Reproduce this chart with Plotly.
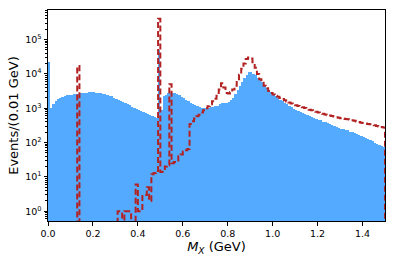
import plotly.graph_objects as go

bin_width = 0.01
n_bins = 150
edges = [round(i * bin_width, 2) for i in range(n_bins + 1)]
centers = [round((i + 0.5) * bin_width, 3) for i in range(n_bins)]

# Blue filled histogram (events per 0.01 GeV)
blue_counts = [
    22000, 1000, 1300, 1650, 1850, 2000, 2150, 2250, 2350, 2450,
    2500, 2550, 2600, 2650, 2700, 2750, 2800, 2850, 2900, 2900,
    2900, 2850, 2800, 2750, 2650, 2550, 2450, 2300, 2200, 2050,
    1900, 1780, 1650, 1530, 1420, 1320, 1220, 1120, 1050, 980,
    900, 840, 780, 720, 670, 630, 590, 560, 530, 50000,
    900, 2200, 2500, 2700, 2800, 2800, 2700, 2550, 2350, 2150,
    1950, 1750, 1600, 1450, 1350, 1250, 1150, 1100, 1050, 1050,
    1050, 1050, 1080, 1100, 1150, 1200, 1300, 1380, 1420, 1450,
    1550, 1700, 2000, 2600, 3400, 4500, 6000, 7600, 9500, 11500,
    11000, 10000, 9000, 7800, 6700, 5700, 4800, 4000, 3400, 2900,
    2550, 2250, 2000, 1750, 1580, 1430, 1300, 1180, 1070, 980,
    900, 840, 780, 730, 680, 640, 600, 560, 525, 495,
    465, 440, 410, 385, 360, 340, 320, 300, 280, 265,
    255, 245, 235, 225, 210, 200, 190, 178, 165, 155,
    145, 138, 130, 118, 110, 100, 92, 85, 80, 75,
]

# Red dashed step histogram (events per 0.01 GeV)
red_counts = [
    0, 0, 0, 0, 0, 0, 0, 0, 0, 0,
    0, 0, 0, 17000, 0, 0, 0, 0, 0, 0,
    0, 0, 0, 0, 0, 0, 0, 0, 0, 0,
    0, 1, 1, 0, 1, 1, 1, 0, 0, 6,
    1, 1, 3, 3, 5, 2, 12, 13, 15, 400000,
    14, 17, 20, 22, 5000, 25, 27, 30, 40, 45,
    55, 60, 65, 350, 420, 500, 580, 650, 750, 880,
    1000, 1150, 1300, 1600, 1900, 2300, 3500, 5300, 4000, 2800,
    2700, 2900, 3500, 4500, 6500, 9500, 14000, 20000, 27000, 30000,
    28000, 22000, 15000, 10000, 7000, 5500, 4500, 3800, 3200, 2800,
    2500, 2300, 2150, 2000, 1850, 1700, 1580, 1480, 1380, 1300,
    1230, 1170, 1110, 1060, 1010, 960, 910, 870, 830, 790,
    750, 720, 690, 660, 630, 610, 590, 570, 550, 530,
    515, 500, 490, 480, 470, 450, 430, 410, 395, 380,
    370, 360, 350, 340, 330, 320, 305, 295, 285, 275,
]

x_ticks = [0.0, 0.2, 0.4, 0.6, 0.8, 1.0, 1.2, 1.4]
x_tick_labels = ["0.0", "0.2", "0.4", "0.6", "0.8", "1.0", "1.2", "1.4"]
y_ticks = [1, 10, 100, 1000, 10000, 100000]
y_tick_labels = ["10<sup>0</sup>", "10<sup>1</sup>", "10<sup>2</sup>",
                 "10<sup>3</sup>", "10<sup>4</sup>", "10<sup>5</sup>"]

floor = 1e-3  # zero counts drawn below the visible log range
red_y = [v if v > 0 else floor for v in red_counts] + [floor]

minor_vals = [m * 10 ** d for d in range(-1, 6) for m in range(2, 10)]

fig = go.Figure()
fig.add_trace(go.Bar(
    x=centers, y=blue_counts, width=bin_width,
    marker=dict(color="rgb(84,170,255)", line=dict(width=0)),
    showlegend=False,
))
fig.add_trace(go.Scatter(
    x=edges, y=red_y, mode="lines", line_shape="hv",
    line=dict(color="rgb(178,34,34)", width=2, dash="6px,3px"),
    showlegend=False,
))

axis_common = dict(
    showline=True, linecolor="black", linewidth=1, mirror=True,
    ticks="outside", ticklen=3.5, tickwidth=1, tickcolor="black",
    showgrid=False, zeroline=False, automargin=False,
    tickfont=dict(family="DejaVu Sans", size=9.5, color="black"),
)

fig.update_layout(
    width=395, height=264,
    margin=dict(l=48, r=10, t=10, b=43, autoexpand=False),
    paper_bgcolor="white", plot_bgcolor="white",
    bargap=0, barmode="overlay",
    font=dict(family="DejaVu Sans", color="black"),
    xaxis=dict(
        range=[0, 1.5], tickvals=x_ticks, ticktext=x_tick_labels,
        title=dict(text="<i>M<sub>X</sub></i> (GeV)", font=dict(size=13), standoff=2),
        **axis_common,
    ),
    yaxis=dict(
        type="log", range=[-0.283, 5.86],
        tickvals=y_ticks, ticktext=y_tick_labels,
        title=dict(text="Events/(0.01 GeV)", font=dict(size=13), standoff=3),
        minor=dict(tickvals=minor_vals, ticks="outside", ticklen=2, tickcolor="black", showgrid=False),
        **axis_common,
    ),
)

fig.write_html("out.html", config={"displayModeBar": False},
               post_script="document.body.style.margin='0';")
